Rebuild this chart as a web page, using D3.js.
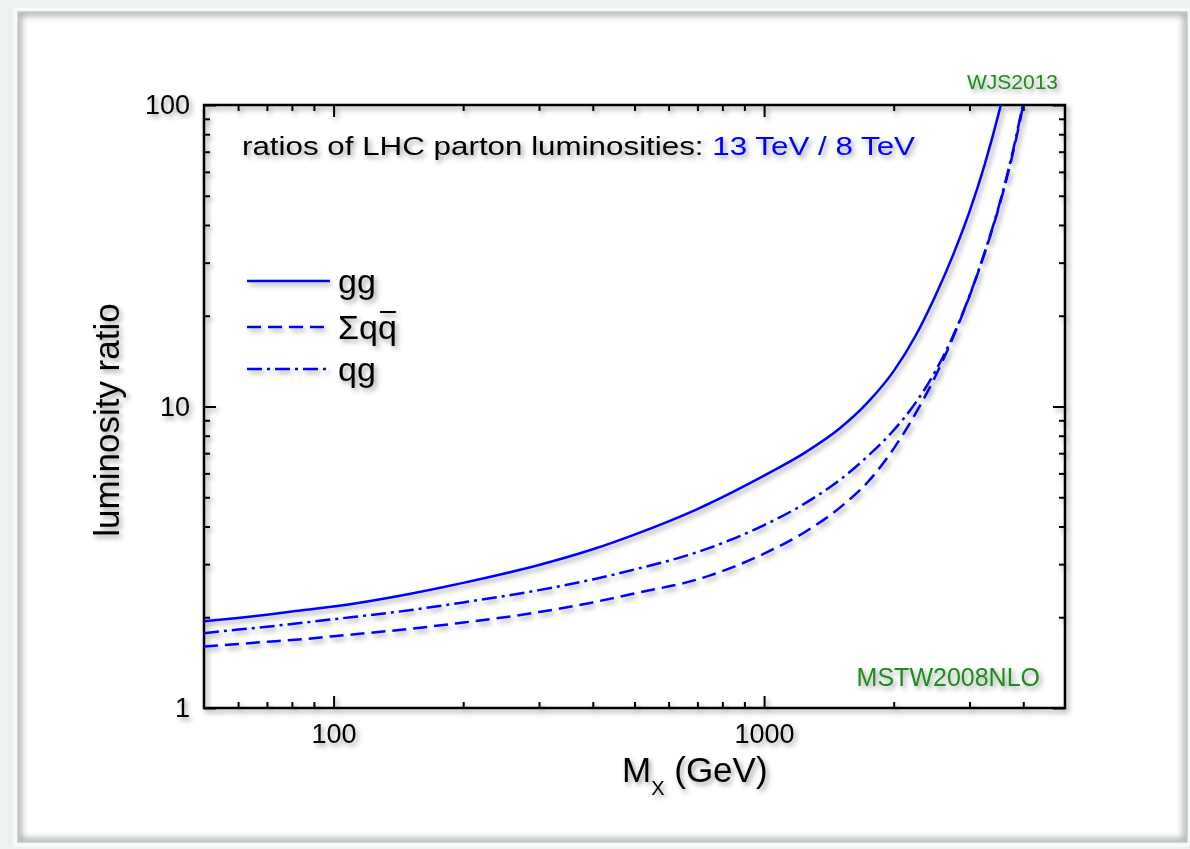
<!DOCTYPE html>
<html><head><meta charset="utf-8">
<script src="https://cdn.jsdelivr.net/npm/d3@7"></script>
<style>
body{margin:0;background:#eef1f1;}
svg{display:block;font-family:"Liberation Sans",Arial,Helvetica,sans-serif;}
</style>
</head><body>
<svg id="chart" width="1190" height="849"></svg>
<script>
// ---------- data ----------
const massGeV = [50,60,70,80,100,150,200,300,400,500,700,1000,1250,1500,1750,2000,2250,2500,2750,3000,3250,3500,3750,4000,4250];
const ratioGG = [1.94,1.99,2.04,2.09,2.17,2.39,2.60,2.98,3.36,3.76,4.57,5.90,7.06,8.47,10.4,13.1,17.2,23.3,31.9,44.3,63.1,92.7,141,223,366];
const ratioQQbar = [1.60,1.63,1.66,1.68,1.73,1.83,1.92,2.08,2.24,2.40,2.67,3.25,3.85,4.62,5.66,7.25,9.5,12.6,17.0,23.2,32.1,45.1,65.5,100,157];
const ratioQG = [1.77,1.82,1.86,1.90,1.97,2.11,2.24,2.46,2.67,2.88,3.29,4.04,4.79,5.71,6.89,8.34,10.3,13.1,17.2,23.3,32.3,45.5,66.5,102,160];
const seriesNames = ["gg","Σqq","qg"];
const xMajorTicks = [100,1000];
const xMajorLabels = ["100","1000"];
const xMinorTicks = [60,70,80,90,200,300,400,500,600,700,800,900,2000,3000,4000];
const yMajorTicks = [1,10,100];
const yMajorLabels = ["1","10","100"];
const yMinorTicks = [2,3,4,5,6,7,8,9,20,30,40,50,60,70,80,90];
const titleBlack = "ratios of LHC parton luminosities: ";
const titleBlue = "13 TeV / 8 TeV";
const xTitleMain = "M", xTitleSub = "X", xTitleRest = " (GeV)";
const yTitle = "luminosity ratio";
const noteTop = "WJS2013", noteBottom = "MSTW2008NLO";

// ---------- layout ----------
const W = 1190, H = 849;
const P = {left:204, top:105, right:1065, bottom:708};
const blue = "#0000ff", green = "#1c8c1c";
const svg = d3.select("#chart");
const defs = svg.append("defs");

const sh = defs.append("filter").attr("id","shadow").attr("x","-10%").attr("y","-10%").attr("width","120%").attr("height","120%");
sh.append("feDropShadow").attr("dx",2.5).attr("dy",3).attr("stdDeviation",2.4).attr("flood-color","#000").attr("flood-opacity",0.38);
const blur = defs.append("filter").attr("id","blur").attr("x","-5%").attr("y","-5%").attr("width","110%").attr("height","110%");
blur.append("feGaussianBlur").attr("stdDeviation",3.5);
defs.append("clipPath").attr("id","cardClip").append("rect").attr("x",18).attr("y",12).attr("width",1169).attr("height",830);
defs.append("clipPath").attr("id","plotClip").append("rect")
  .attr("x",P.left).attr("y",P.top).attr("width",P.right-P.left).attr("height",P.bottom-P.top);

// card background
svg.append("rect").attr("width",W).attr("height",H).attr("fill","#eef1f1");
svg.append("rect").attr("x",13).attr("y",8).attr("width",1176).attr("height",839).attr("fill","#f9fafa");
svg.append("rect").attr("x",18).attr("y",12).attr("width",1169).attr("height",830).attr("fill","#fff");
svg.append("g").attr("clip-path","url(#cardClip)").append("rect")
  .attr("x",18).attr("y",12).attr("width",1169).attr("height",830)
  .attr("fill","none").attr("stroke","#8f9494").attr("stroke-width",7).attr("filter","url(#blur)").attr("opacity",0.8);
svg.append("rect").attr("x",18).attr("y",12).attr("width",1169).attr("height",830)
  .attr("fill","none").attr("stroke","#c4c8c8").attr("stroke-width",1.5);

const g = svg.append("g").attr("filter","url(#shadow)");

const x = d3.scaleLog().domain([50,5000]).range([P.left,P.right]);
const y = d3.scaleLog().domain([1,100]).range([P.bottom,P.top]);

function styleAxis(sel){
  sel.select(".domain").remove();
  sel.selectAll(".tick line").attr("stroke","#000").attr("stroke-width",2);
  sel.selectAll(".tick text").attr("fill","#000").attr("font-size",27)
     .attr("font-family","'Liberation Sans',Arial,Helvetica,sans-serif");
}
// bottom
g.append("g").attr("transform",`translate(0,${P.bottom})`)
  .call(d3.axisBottom(x).tickValues(xMajorTicks).tickFormat((d,i)=>xMajorLabels[i]).tickSize(-12).tickSizeOuter(0).tickPadding(16)).call(styleAxis);
g.append("g").attr("transform",`translate(0,${P.bottom})`)
  .call(d3.axisBottom(x).tickValues(xMinorTicks).tickFormat("").tickSize(-6).tickSizeOuter(0)).call(styleAxis);
// top
g.append("g").attr("transform",`translate(0,${P.top})`)
  .call(d3.axisTop(x).tickValues(xMajorTicks).tickFormat("").tickSize(-12).tickSizeOuter(0)).call(styleAxis);
g.append("g").attr("transform",`translate(0,${P.top})`)
  .call(d3.axisTop(x).tickValues(xMinorTicks).tickFormat("").tickSize(-6).tickSizeOuter(0)).call(styleAxis);
// left
g.append("g").attr("transform",`translate(${P.left},0)`)
  .call(d3.axisLeft(y).tickValues(yMajorTicks).tickFormat((d,i)=>yMajorLabels[i]).tickSize(-12).tickSizeOuter(0).tickPadding(14)).call(styleAxis);
g.append("g").attr("transform",`translate(${P.left},0)`)
  .call(d3.axisLeft(y).tickValues(yMinorTicks).tickFormat("").tickSize(-6).tickSizeOuter(0)).call(styleAxis);
// right
g.append("g").attr("transform",`translate(${P.right},0)`)
  .call(d3.axisRight(y).tickValues(yMajorTicks).tickFormat("").tickSize(-12).tickSizeOuter(0)).call(styleAxis);
g.append("g").attr("transform",`translate(${P.right},0)`)
  .call(d3.axisRight(y).tickValues(yMinorTicks).tickFormat("").tickSize(-6).tickSizeOuter(0)).call(styleAxis);

// frame
g.append("rect").attr("x",P.left).attr("y",P.top).attr("width",P.right-P.left).attr("height",P.bottom-P.top)
  .attr("fill","none").attr("stroke","#000").attr("stroke-width",2.5);

// curves
const series = [
  {name:seriesNames[0], values:ratioGG, dash:null},
  {name:seriesNames[1], values:ratioQQbar, dash:"14,7"},
  {name:seriesNames[2], values:ratioQG, dash:"15,5,3,5"}
];
const line = d3.line().x(d=>x(d[0])).y(d=>y(d[1])).curve(d3.curveMonotoneX);
const curves = g.append("g").attr("clip-path","url(#plotClip)");
series.forEach(s=>{
  curves.append("path").datum(massGeV.map((m,i)=>[m,s.values[i]]))
    .attr("d",line).attr("fill","none").attr("stroke",blue).attr("stroke-width",2.5)
    .attr("stroke-dasharray",s.dash);
});

// legend
const legX0 = 247, legX1 = 330, legTextX = 338;
const legY = [281, 327, 369];
series.forEach((s,i)=>{
  g.append("line").attr("x1",legX0).attr("x2",legX1).attr("y1",legY[i]).attr("y2",legY[i])
    .attr("stroke",blue).attr("stroke-width",2.5).attr("stroke-dasharray",s.dash);
  const t = g.append("text").attr("x",legTextX).attr("y",legY[i]+12).attr("font-size",34).attr("fill","#000").text(s.name);
  if(i===1){
    const node = t.node();
    const ext = node.getExtentOfChar(2);
    g.append("line").attr("x1",ext.x+2).attr("x2",ext.x+ext.width-1)
      .attr("y1",legY[i]+12-27).attr("y2",legY[i]+12-27)
      .attr("stroke","#000").attr("stroke-width",2);
  }
});

// title
const tt = g.append("text").attr("x",242).attr("y",155).attr("font-size",26)
  .attr("textLength",673).attr("lengthAdjust","spacingAndGlyphs");
tt.append("tspan").attr("fill","#000").text(titleBlack);
tt.append("tspan").attr("fill",blue).text(titleBlue);

// axis titles
const xt = g.append("text").attr("x",622).attr("y",782).attr("font-size",35).attr("fill","#000");
xt.append("tspan").text(xTitleMain);
xt.append("tspan").attr("font-size",20).attr("dy",13).text(xTitleSub);
xt.append("tspan").attr("dy",-13).text(xTitleRest);

g.append("text").attr("transform","translate(119,420) rotate(-90)").attr("text-anchor","middle")
  .attr("font-size",35).attr("fill","#000").text(yTitle);

// notes
g.append("text").attr("x",967).attr("y",89).attr("font-size",21).attr("fill",green).text(noteTop);
g.append("text").attr("x",1040).attr("y",686).attr("text-anchor","end").attr("font-size",25).attr("fill",green).text(noteBottom);
</script>
</body></html>
